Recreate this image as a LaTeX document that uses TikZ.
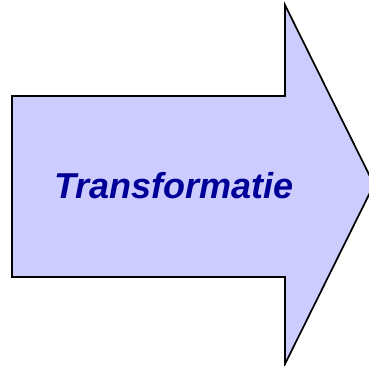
\documentclass[tikz,border=0pt]{standalone}
\usepackage{fontspec}
\setmainfont{Liberation Sans}
\definecolor{arrowfill}{RGB}{204,204,255}
\definecolor{textblue}{RGB}{0,0,153}
\begin{document}
\begin{tikzpicture}[x=1pt,y=-1pt,
  bigarrow/.style={draw=black,fill=arrowfill,line width=1.7pt,line join=miter},
  label/.style={text=textblue,font=\fontsize{36}{40}\selectfont\bfseries\itshape,anchor=base,inner sep=0pt}]
\useasboundingbox (0,0) rectangle (369,366);
\draw[bigarrow] (12,96) -- (285,96) -- (285,5) -- (374,184.5) -- (285,364) -- (285,277) -- (12,277) -- cycle;
\node[label] (t) at (174,198) {Transformatie};
\end{tikzpicture}
\end{document}
